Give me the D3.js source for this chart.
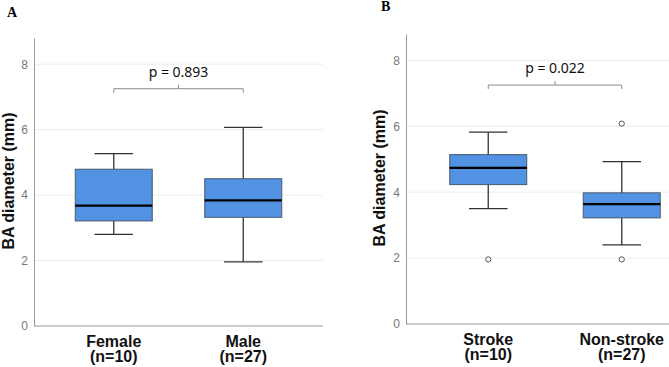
<!DOCTYPE html>
<html lang="en">

<head>
    <meta charset="UTF-8" />
    <script type="text/javascript" src="https://cdn.jsdelivr.net/npm/d3@7"></script>
    <title>BA diameter boxplots</title>
    <style>
        body { margin: 0; background: #fff; }
        svg { display: block; overflow: hidden; }
    </style>
</head>

<body>
    <div id="my_dataviz"></div>

    <script type="text/javascript">
        // panel A: sex
        var groupsA = ["Female", "Male"];
        var countsA = ["(n=10)", "(n=27)"];
        var whiskerLowA = [2.80, 1.96];
        var q1A = [3.21, 3.32];
        var medianA = [3.68, 3.84];
        var q3A = [4.79, 4.50];
        var whiskerHighA = [5.27, 6.07];
        var outliersA = [[], []];
        var pTextA = "p = 0.893";

        // panel B: stroke
        var groupsB = ["Stroke", "Non-stroke"];
        var countsB = ["(n=10)", "(n=27)"];
        var whiskerLowB = [3.50, 2.40];
        var q1B = [4.23, 3.22];
        var medianB = [4.74, 3.64];
        var q3B = [5.14, 3.98];
        var whiskerHighB = [5.82, 4.93];
        var outliersB = [[1.96], [6.08, 1.96]];
        var pTextB = "p = 0.022";

        var yTicks = [0, 2, 4, 6, 8];
        var yMax = 8.8;
        var bracketY = 7.25;

        var svg = d3.select("#my_dataviz")
            .append("svg")
            .attr("width", 669)
            .attr("height", 367);

        function drawPanel(opt) {
            var g = svg.append("g");

            var x = d3.scalePoint()
                .domain(opt.groups)
                .range([opt.left, opt.right])
                .padding(0.616);

            var y = d3.scaleLinear()
                .domain([0, yMax])
                .range([opt.bottom, opt.top]);

            var boxW = 77;

            // gridlines
            g.selectAll("line.grid")
                .data(yTicks.slice(1))
                .enter().append("line")
                .attr("class", "grid")
                .attr("x1", opt.left).attr("x2", opt.axisEnd)
                .attr("y1", function (d) { return y(d); })
                .attr("y2", function (d) { return y(d); })
                .attr("stroke", "#ececec")
                .attr("stroke-width", 1);

            // y axis
            var yAxis = g.append("g")
                .attr("transform", "translate(" + opt.left + ",0)")
                .call(d3.axisLeft(y).tickValues(yTicks).tickSize(0).tickPadding(6));
            yAxis.select(".domain").attr("stroke", "#999");
            yAxis.selectAll("text")
                .attr("fill", "#777")
                .style("font-family", "Liberation Sans, Arial, sans-serif")
                .style("font-size", "12px");

            // x axis line
            g.append("line")
                .attr("x1", opt.left).attr("x2", opt.axisEnd)
                .attr("y1", y(0)).attr("y2", y(0))
                .attr("stroke", "#999");

            var rows = opt.groups.map(function (name, i) {
                return {
                    name: name, n: opt.counts[i],
                    lo: opt.lo[i], q1: opt.q1[i], med: opt.med[i], q3: opt.q3[i], hi: opt.hi[i],
                    out: opt.out[i]
                };
            });

            var box = g.selectAll("g.box")
                .data(rows)
                .enter().append("g")
                .attr("class", "box");

            // whiskers
            box.append("line")
                .attr("x1", function (d) { return x(d.name); })
                .attr("x2", function (d) { return x(d.name); })
                .attr("y1", function (d) { return y(d.hi); })
                .attr("y2", function (d) { return y(d.lo); })
                .attr("stroke", "#333").attr("stroke-width", 1.3);
            ["hi", "lo"].forEach(function (k) {
                box.append("line")
                    .attr("x1", function (d) { return x(d.name) - boxW / 4; })
                    .attr("x2", function (d) { return x(d.name) + boxW / 4; })
                    .attr("y1", function (d) { return y(d[k]); })
                    .attr("y2", function (d) { return y(d[k]); })
                    .attr("stroke", "#333").attr("stroke-width", 1.3);
            });

            box.append("rect")
                .attr("x", function (d) { return x(d.name) - boxW / 2; })
                .attr("y", function (d) { return y(d.q3); })
                .attr("width", boxW)
                .attr("height", function (d) { return y(d.q1) - y(d.q3); })
                .attr("fill", "#5192e3")
                .attr("stroke", "#4a5a6e")
                .attr("stroke-width", 1);

            box.append("line")
                .attr("x1", function (d) { return x(d.name) - boxW / 2; })
                .attr("x2", function (d) { return x(d.name) + boxW / 2; })
                .attr("y1", function (d) { return y(d.med); })
                .attr("y2", function (d) { return y(d.med); })
                .attr("stroke", "#000").attr("stroke-width", 2.2);

            // outliers
            box.selectAll("circle")
                .data(function (d) { return d.out.map(function (v) { return { name: d.name, v: v }; }); })
                .enter().append("circle")
                .attr("cx", function (d) { return x(d.name); })
                .attr("cy", function (d) { return y(d.v); })
                .attr("r", 2.6)
                .attr("fill", "#fff")
                .attr("stroke", "#555")
                .attr("stroke-width", 1);

            // category labels, two lines
            var lbl = box.append("text")
                .attr("text-anchor", "middle")
                .style("font-family", "Liberation Sans, Arial, sans-serif")
                .style("font-weight", "bold")
                .style("font-size", "16px")
                .attr("fill", "#111");
            lbl.append("tspan")
                .attr("x", function (d) { return x(d.name); })
                .attr("y", opt.bottom + 21)
                .text(function (d) { return d.name; });
            lbl.append("tspan")
                .attr("x", function (d) { return x(d.name); })
                .attr("dy", 15)
                .text(function (d) { return d.n; });

            // significance bracket
            var x0 = x(opt.groups[0]), x1 = x(opt.groups[1]), by = y(bracketY), xm = (x0 + x1) / 2;
            g.append("path")
                .attr("d", "M" + x0 + "," + (by + 4) + "V" + by + "H" + x1 + "V" + (by + 4) +
                    "M" + xm + "," + by + "V" + (by - 4))
                .attr("fill", "none")
                .attr("stroke", "#8a8a8a")
                .attr("stroke-width", 1);
            g.append("text")
                .attr("x", xm)
                .attr("y", by - 12)
                .attr("text-anchor", "middle")
                .style("font-family", "Noto Sans, sans-serif")
                .style("font-size", "14px")
                .attr("fill", "#111")
                .text(opt.pText);

            // y title
            g.append("text")
                .attr("transform", "translate(" + opt.titleX + "," + ((opt.bottom + opt.top) / 2 - 1) + ")rotate(-90)")
                .attr("text-anchor", "middle")
                .style("font-family", "Liberation Sans, Arial, sans-serif")
                .style("font-weight", "bold")
                .style("font-size", "16px")
                .attr("fill", "#111")
                .text("BA diameter (mm)");

            // panel letter
            g.append("text")
                .attr("x", opt.letterX)
                .attr("y", opt.letterY)
                .style("font-family", "Liberation Serif, Times New Roman, serif")
                .style("font-weight", "bold")
                .style("font-size", "14px")
                .attr("fill", "#000")
                .text(opt.letter);
        }

        drawPanel({
            groups: groupsA, counts: countsA,
            lo: whiskerLowA, q1: q1A, med: medianA, q3: q3A, hi: whiskerHighA, out: outliersA,
            pText: pTextA,
            left: 34, right: 323, axisEnd: 323, top: 38, bottom: 326,
            titleX: 14, letter: "A", letterX: 7, letterY: 17
        });

        drawPanel({
            groups: groupsB, counts: countsB,
            lo: whiskerLowB, q1: q1B, med: medianB, q3: q3B, hi: whiskerHighB, out: outliersB,
            pText: pTextB,
            left: 406, right: 704, axisEnd: 669, top: 34, bottom: 324,
            titleX: 385, letter: "B", letterX: 381, letterY: 11
        });
    </script>

</body>

</html>
